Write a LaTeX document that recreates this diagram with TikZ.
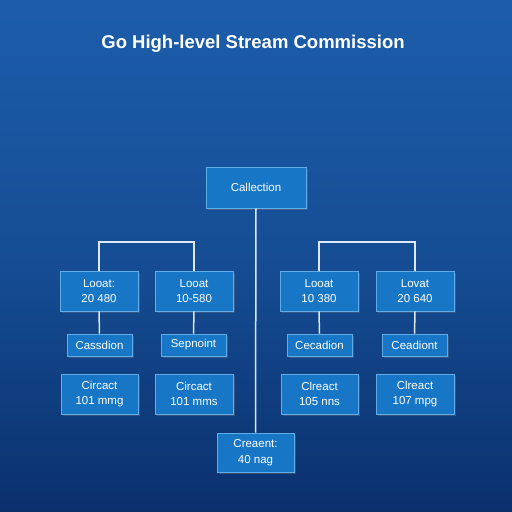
\documentclass[tikz,border=0pt]{standalone}
\usepackage{fontspec}
\setmainfont{Liberation Sans}
\usetikzlibrary{shadows}
\definecolor{bgtop}{HTML}{1C5DAB}
\definecolor{bgbot}{HTML}{0A306C}
\definecolor{boxfill}{HTML}{1776C6}
\definecolor{boxedge}{HTML}{62ACE8}
\definecolor{linec}{HTML}{DCEAF7}
\tikzset{
  bx/.style={draw=boxedge, line width=0.8pt, fill=boxfill, text=white, font=\fontsize{11.5}{15.5}\selectfont, align=center, inner sep=0pt, drop shadow={opacity=0.35, shadow xshift=1.5pt, shadow yshift=-2pt}},
  conn/.style={draw=linec, line width=1.5pt}
}
\begin{document}
\begin{tikzpicture}[x=1pt,y=-1pt]
\useasboundingbox (0,0) rectangle (512,512);
\shade[top color=bgtop, bottom color=bgbot, middle color=bgtop!65!bgbot] (0,0) rectangle (512,512);
\node[text=white, font=\fontsize{18.5}{22}\selectfont\bfseries] (title) at (253,44) {Go High-level Stream Commission};

% central
\node[bx, minimum width=100pt, minimum height=41pt] (c) at (256,187.5) {Callection};
\node[bx, minimum width=77pt, minimum height=39pt] (b) at (255.5,452.5) {Creaent:\\40 nag};
\draw[conn] (c.south) -- (b.north);

% left group
\node[bx, minimum width=78pt, minimum height=40pt] (l1) at (99,291) {Looat:\\20 480};
\node[bx, minimum width=78pt, minimum height=40pt] (l2) at (194,291) {Looat\\10-580};
\coordinate (lb1) at (99,242);
\coordinate (lb2) at (194,242);
\draw[conn] (l1.north) -- (lb1) -- (lb2) -- (l2.north);

\node[bx, minimum width=65pt, minimum height=22pt] (ls1) at (99.5,345) {Cassdion};
\node[bx, minimum width=65pt, minimum height=22pt] (ls2) at (193.5,345) {Sepnoint};
\draw[conn] (l1.south) -- (ls1.north);
\draw[conn] (l2.south) -- (ls2.north);

\node[bx, minimum width=77pt, minimum height=40pt] (ll1) at (99.5,394) {Circact\\101 mmg};
\node[bx, minimum width=78pt, minimum height=40pt] (ll2) at (194,394) {Circact\\101 mms};

% right group
\node[bx, minimum width=78pt, minimum height=40pt] (r1) at (319,291) {Looat\\10 380};
\node[bx, minimum width=78pt, minimum height=40pt] (r2) at (415,291) {Lovat\\20 640};
\coordinate (rb1) at (319,242);
\coordinate (rb2) at (415,242);
\draw[conn] (r1.north) -- (rb1) -- (rb2) -- (r2.north);

\node[bx, minimum width=65pt, minimum height=22pt] (rs1) at (319.5,345) {Cecadion};
\node[bx, minimum width=65pt, minimum height=22pt] (rs2) at (414.5,345) {Ceadiont};
\draw[conn] (r1.south) -- (rs1.north);
\draw[conn] (r2.south) -- (rs2.north);

\node[bx, minimum width=77pt, minimum height=40pt] (rl1) at (319.5,394) {Clreact\\105 nns};
\node[bx, minimum width=78pt, minimum height=40pt] (rl2) at (415,394) {Clreact\\107 mpg};
\end{tikzpicture}
\end{document}
